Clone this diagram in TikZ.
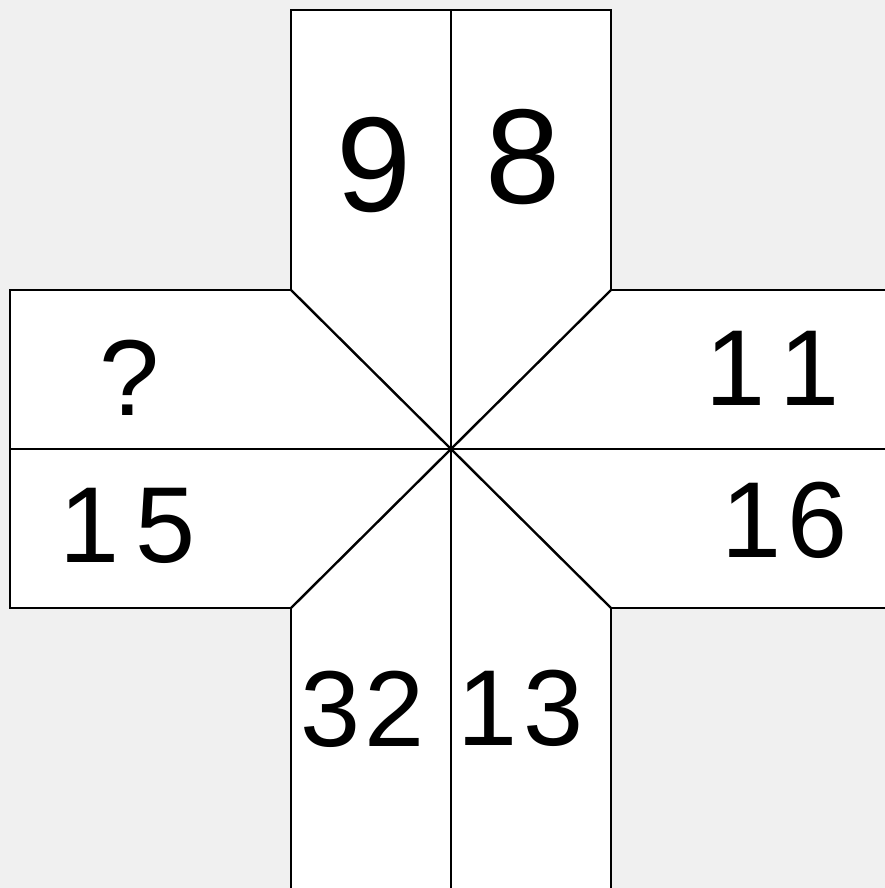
\documentclass[tikz,border=0pt]{standalone}
\usepackage{fontspec}
\setmainfont{Liberation Sans}
\definecolor{bg}{HTML}{F0F0F0}
\begin{document}
\begin{tikzpicture}[x=1pt,y=-1pt,
  edge/.style={draw=black,line width=2.4pt,line join=miter},
  num/.style={inner sep=0pt,anchor=center,font=\fontsize{108}{108}\selectfont},
  bignum/.style={inner sep=0pt,anchor=center,font=\fontsize{135}{135}\selectfont}]
\fill[bg] (0,0) rectangle (885,888);
\useasboundingbox (0,0) rectangle (885,888);
\clip (0,0) rectangle (885,888);
% corners
\coordinate (tl) at (291,290);
\coordinate (tr) at (611,290);
\coordinate (bl) at (291,608);
\coordinate (br) at (611,608);
\coordinate (top) at (451,10);
\coordinate (bot) at (451,900);
\coordinate (lft) at (10,449);
\coordinate (rgt) at (900,449);
% cross
\filldraw[edge,fill=white] (291,10) -- (611,10) -- (tr) -- (900,290) -- (900,608) -- (br)
  -- (611,900) -- (291,900) -- (bl) -- (10,608) -- (10,290) -- (tl) -- cycle;
\draw[edge] (top) -- (bot);
\draw[edge] (lft) -- (rgt);
\draw[edge] (tl) -- (br);
\draw[edge] (tr) -- (bl);
% numbers
\node[bignum] (n9) at (374,165) {9};
\node[bignum] (n8) at (523,157) {8};
\node[num] (nq) at (130,378) {?};
\node[num] (n11) at (773,368) {1\hspace{14pt}1};
\node[num] (n15) at (128,526) {1\hspace{16pt}5};
\node[num] (n16) at (785,520) {1\hspace{6pt}6};
\node[num] (n32) at (363,709) {3\hspace{4pt}2};
\node[num] (n13) at (521,708) {1\hspace{6pt}3};
\end{tikzpicture}
\end{document}
